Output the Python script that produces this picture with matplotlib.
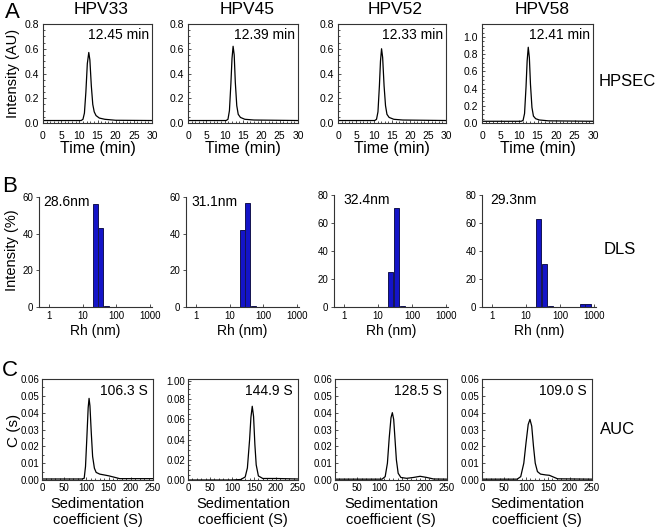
"""
HPV VLP characterisation panel: HPSEC traces, DLS size histograms, AUC profiles.
"""
import matplotlib
matplotlib.use('Agg')
import matplotlib.pyplot as plt
from matplotlib.ticker import MultipleLocator, LogLocator, NullFormatter, FixedLocator

plt.rcParams['font.family'] = ['Liberation Sans', 'DejaVu Sans']

W, H = 660, 532
TYPES = ['HPV33', 'HPV45', 'HPV52', 'HPV58']

# ---- A: HPSEC (time in min, intensity in AU) ----
sec_label = ['12.45 min', '12.39 min', '12.33 min', '12.41 min']
sec_t = [
    [0, 10.5, 11.0, 11.4, 11.8, 12.2, 12.6, 12.9, 13.3, 13.7, 14.1, 14.6, 15.5, 17, 20, 30],
    [0, 10.4, 10.9, 11.3, 11.7, 12.0, 12.3, 12.6, 12.9, 13.3, 13.7, 14.3, 15.5, 18, 30],
    [0, 10.2, 10.7, 11.1, 11.5, 11.8, 12.1, 12.4, 12.8, 13.2, 13.6, 14.2, 15.5, 18, 30],
    [0, 10.6, 11.1, 11.5, 11.9, 12.2, 12.5, 12.8, 13.1, 13.5, 13.9, 14.5, 15.5, 18, 30],
]
sec_y = [
    [0.02, 0.02, 0.03, 0.08, 0.25, 0.48, 0.57, 0.51, 0.30, 0.15, 0.09, 0.06, 0.04, 0.03, 0.022, 0.02],
    [0.02, 0.02, 0.03, 0.10, 0.32, 0.52, 0.62, 0.55, 0.33, 0.14, 0.07, 0.045, 0.03, 0.024, 0.02],
    [0.02, 0.02, 0.03, 0.09, 0.30, 0.50, 0.60, 0.53, 0.30, 0.14, 0.07, 0.045, 0.03, 0.024, 0.02],
    [0.02, 0.02, 0.03, 0.11, 0.42, 0.72, 0.88, 0.76, 0.45, 0.18, 0.08, 0.05, 0.035, 0.025, 0.02],
]
sec_ymax = [0.8, 0.8, 0.8, 1.15]
sec_yticks = [[0, 0.2, 0.4, 0.6, 0.8]] * 3 + [[0, 0.2, 0.4, 0.6, 0.8, 1.0]]

# ---- B: DLS (Rh in nm, intensity %) ----
dls_label = ['28.6nm', '31.1nm', '32.4nm', '29.3nm']
dls_rh = [
    [23.5, 34, 52],
    [23.5, 34, 52],
    [23.5, 34, 52],
    [23.5, 34, 52, 470, 670],
]
dls_pct = [
    [56, 43, 0.8],
    [42, 57, 0.8],
    [25, 71, 1.0],
    [63, 31, 1.0, 2.0, 2.5],
]
dls_ymax = [60, 60, 80, 80]
dls_yticks = [[0, 20, 40, 60], [0, 20, 40, 60], [0, 20, 40, 60, 80], [0, 20, 40, 60, 80]]

# ---- C: AUC (sedimentation coefficient S, c(s)) ----
auc_label = ['106.3 S', '144.9 S', '128.5 S', '109.0 S']
auc_s = [
    [0, 90, 95, 98, 101, 104, 106, 108, 111, 114, 118, 122, 130, 150, 165, 175, 250],
    [0, 100, 120, 130, 135, 140, 143, 146, 149, 152, 155, 160, 170, 200, 250],
    [0, 105, 112, 117, 121, 125, 128, 131, 134, 137, 141, 147, 160, 175, 190, 205, 220, 250],
    [0, 80, 88, 95, 100, 105, 109, 113, 117, 121, 126, 133, 145, 153, 162, 172, 250],
]
auc_c = [
    [0.0006, 0.0006, 0.001, 0.008, 0.025, 0.043, 0.0485, 0.044, 0.028, 0.014, 0.007, 0.0045,
     0.0035, 0.0025, 0.0015, 0.0008, 0.0008],
    [0.0, 0.0, 0.0005, 0.003, 0.012, 0.04, 0.062, 0.073, 0.063, 0.035, 0.015, 0.004, 0.0015,
     0.0015, 0.001],
    [0.0005, 0.0005, 0.002, 0.01, 0.025, 0.037, 0.040, 0.036, 0.024, 0.012, 0.004, 0.0015,
     0.001, 0.0015, 0.0022, 0.0015, 0.0006, 0.0005],
    [0.0005, 0.0005, 0.002, 0.01, 0.022, 0.033, 0.036, 0.032, 0.02, 0.01, 0.005, 0.0035,
     0.003, 0.0028, 0.0018, 0.0007, 0.0005],
]
auc_ymax = [0.06, 0.10, 0.06, 0.06]
auc_yticks = [[0, 0.01, 0.02, 0.03, 0.04, 0.05, 0.06], [0, 0.02, 0.04, 0.06, 0.08, 0.098],
              [0, 0.01, 0.02, 0.03, 0.04, 0.05, 0.06], [0, 0.01, 0.02, 0.03, 0.04, 0.05, 0.06]]
auc_yticklabels = [['0.00', '0.01', '0.02', '0.03', '0.04', '0.05', '0.06'],
                   ['0.00', '0.02', '0.04', '0.06', '0.08', '1.00'],
                   ['0.00', '0.01', '0.02', '0.03', '0.04', '0.05', '0.06'],
                   ['0.00', '0.01', '0.02', '0.03', '0.04', '0.05', '0.06']]

# panel boxes in pixels: (left, right, top, bottom)
BOX_A = [(43, 152, 24, 123), (188, 298, 24, 123), (338, 446, 24, 123), (482, 593, 24, 123)]
BOX_B = [(39, 152, 197, 307), (186, 299, 197, 307), (334, 448, 195, 307), (482, 596, 195, 307)]
BOX_C = [(42, 153, 379, 480), (188, 298, 379, 480), (335, 447, 379, 480), (482, 592, 379, 480)]
TITLE_X = [101, 247, 395, 542]

SPINE = '#333333'
BAR_FACE = '#1414C8'
BAR_EDGE = '#141450'
BAR_HALF = 1.19   # multiplicative half width of a DLS bin


def px_axes(fig, box):
    l, r, t, b = box
    return fig.add_axes([l / W, 1 - b / H, (r - l) / W, (b - t) / H])


def fig_text(fig, x, y, s, **kw):
    fig.text(x / W, 1 - y / H, s, ha='center', va='center', **kw)


fig = plt.figure(figsize=(W / 100, H / 100), dpi=100)

# row A
for i in range(4):
    ax = px_axes(fig, BOX_A[i])
    ax.plot(sec_t[i], sec_y[i], color='black', lw=0.9)
    ax.set_xlim(0, 30)
    ax.set_ylim(0, sec_ymax[i])
    ax.set_xticks([0, 5, 10, 15, 20, 25, 30])
    ax.xaxis.set_minor_locator(MultipleLocator(1))
    ax.set_yticks(sec_yticks[i])
    ax.set_yticklabels([f'{v:.1f}' for v in sec_yticks[i]])
    ax.yaxis.set_minor_locator(MultipleLocator(0.05))
    ax.tick_params(which='both', direction='in', labelsize=7.5, width=0.6, color=SPINE)
    ax.tick_params(which='major', length=2.5)
    ax.tick_params(which='minor', length=1.5)
    ax.tick_params(axis='x', pad=6)
    ax.tick_params(axis='y', pad=3)
    for sp in ax.spines.values():
        sp.set_color(SPINE); sp.set_linewidth(0.8)
    ax.text(0.975, 0.89, sec_label[i], transform=ax.transAxes, ha='right', va='center', fontsize=10)
    ax.set_xlabel('Time (min)', fontsize=11.5, labelpad=0)
    fig_text(fig, TITLE_X[i], 10, TYPES[i], fontsize=12.5)

# row B
dls_tx = [0.035, 0.045, 0.08, 0.07]
for i in range(4):
    ax = px_axes(fig, BOX_B[i])
    lefts = [c / BAR_HALF for c in dls_rh[i]]
    widths = [c * BAR_HALF - c / BAR_HALF for c in dls_rh[i]]
    ax.bar(lefts, dls_pct[i], width=widths, align='edge', color=BAR_FACE,
           edgecolor=BAR_EDGE, linewidth=0.7)
    ax.set_xscale('log')
    ax.set_xlim(0.5, 1150)
    ax.set_ylim(0, dls_ymax[i])
    ax.xaxis.set_major_locator(FixedLocator([1, 10, 100, 1000]))
    ax.set_xticklabels(['1', '10', '100', '1000'])
    ax.xaxis.set_minor_locator(LogLocator(base=10, subs=range(2, 10)))
    ax.xaxis.set_minor_formatter(NullFormatter())
    ax.set_yticks(dls_yticks[i])
    ax.spines['top'].set_visible(False)
    ax.spines['right'].set_visible(False)
    for sp in ('left', 'bottom'):
        ax.spines[sp].set_color(SPINE); ax.spines[sp].set_linewidth(0.8)
    ax.tick_params(which='both', labelsize=7, width=0.6, color=SPINE)
    ax.tick_params(axis='x', which='major', direction='in', length=2.5, pad=3)
    ax.tick_params(axis='x', which='minor', direction='in', length=1.5)
    ax.tick_params(axis='y', direction='out', length=2, pad=2)
    ax.text(dls_tx[i], 0.955, dls_label[i], transform=ax.transAxes, ha='left', va='center',
            fontsize=10)
    ax.set_xlabel('Rh (nm)', fontsize=10, labelpad=2)

# row C
for i in range(4):
    ax = px_axes(fig, BOX_C[i])
    ax.plot(auc_s[i], auc_c[i], color='black', lw=0.9)
    ax.set_xlim(0, 250)
    ax.set_ylim(0, auc_ymax[i])
    ax.set_xticks([0, 50, 100, 150, 200, 250])
    ax.xaxis.set_minor_locator(MultipleLocator(10))
    ax.set_yticks(auc_yticks[i])
    ax.set_yticklabels(auc_yticklabels[i])
    ax.yaxis.set_minor_locator(MultipleLocator(0.005))
    ax.tick_params(which='both', direction='in', labelsize=7, width=0.6, color=SPINE)
    ax.tick_params(which='major', length=2.5)
    ax.tick_params(which='minor', length=1.5)
    ax.tick_params(axis='x', pad=2)
    ax.tick_params(axis='y', pad=2)
    for sp in ax.spines.values():
        sp.set_color(SPINE); sp.set_linewidth(0.8)
    ax.text(0.955, 0.88, auc_label[i], transform=ax.transAxes, ha='right', va='center', fontsize=10)
    ax.set_xlabel('Sedimentation\ncoefficient (S)', fontsize=10.5, labelpad=3, linespacing=1.15)

# row labels, side labels, y labels
fig_text(fig, 12, 12, 'A', fontsize=16)
fig_text(fig, 10, 186, 'B', fontsize=16)
fig_text(fig, 10, 370, 'C', fontsize=16)
fig_text(fig, 627, 82, 'HPSEC', fontsize=12)
fig_text(fig, 620, 250, 'DLS', fontsize=12)
fig_text(fig, 618, 430, 'AUC', fontsize=12)
fig_text(fig, 13, 73, 'Intensity (AU)', fontsize=10.5, rotation=90)
fig_text(fig, 12, 250, 'Intensity (%)', fontsize=10.5, rotation=90)
fig_text(fig, 14, 430, 'C (s)', fontsize=11, rotation=90)

fig.savefig('out.png', dpi=100)
print('saved out.png')
